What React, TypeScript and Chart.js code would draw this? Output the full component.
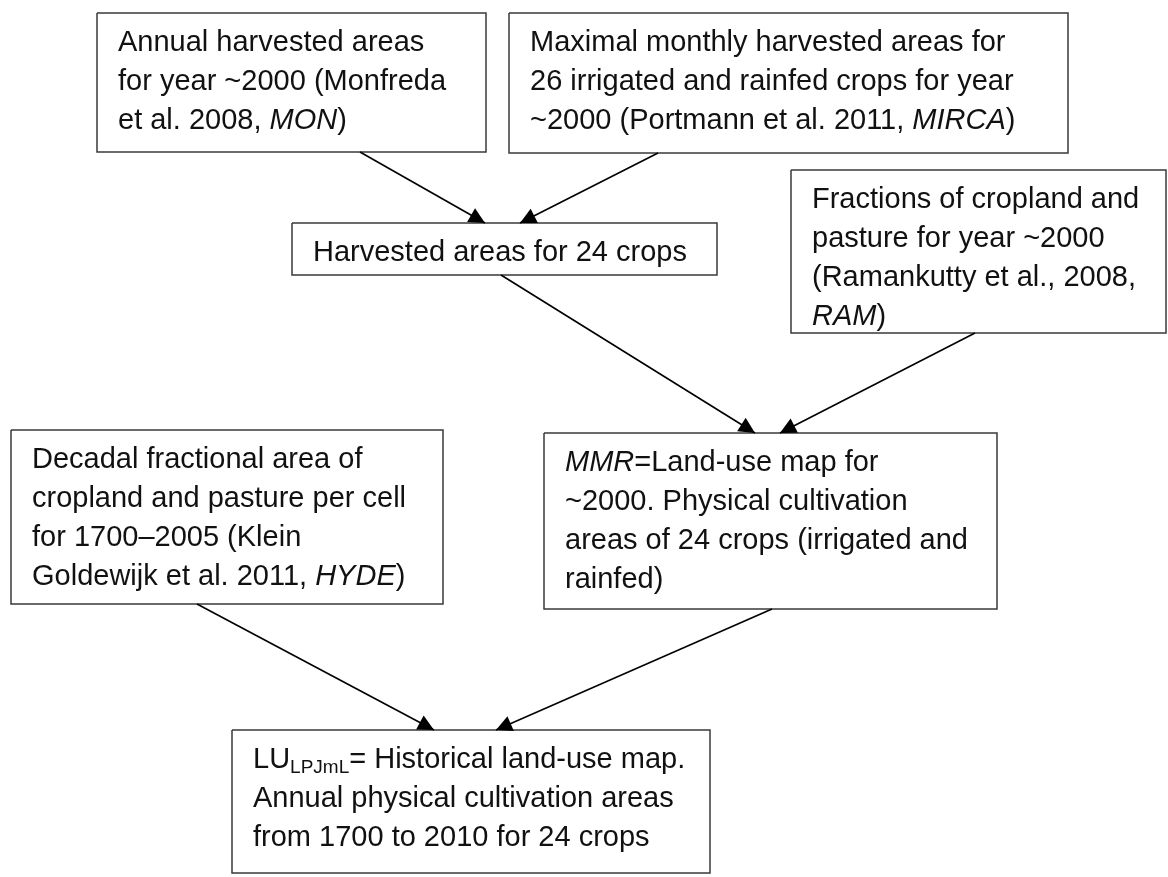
import React, { useEffect, useRef } from 'react';
import { Chart, registerables } from 'chart.js';

Chart.register(...registerables);

const CANVAS_W = 1168;
const CANVAS_H = 877;

// ---- Diagram data (in diagram units, mapped through the chart's linear scales) ----
const nodeText: string[][] = [
  ['Annual harvested areas', 'for year ~2000 (Monfreda', 'et al. 2008, *MON*)'],
  ['Maximal monthly harvested areas for', '26 irrigated and rainfed crops for year', '~2000 (Portmann et al. 2011, *MIRCA*)'],
  ['Harvested areas for 24 crops'],
  ['Fractions of cropland and', 'pasture for year ~2000', '(Ramankutty et al., 2008,', '*RAM*)'],
  ['Decadal fractional area of', 'cropland and pasture per cell', 'for 1700\u20132005 (Klein', 'Goldewijk et al. 2011, *HYDE*)'],
  ['*MMR*=Land-use map for', '~2000. Physical cultivation', 'areas of 24 crops (irrigated and', 'rainfed)'],
  ['LU_{LPJmL}= Historical land-use map.', 'Annual physical cultivation areas', 'from 1700 to 2010 for 24 crops'],
];
const nodeLeft = [97, 509, 292, 791, 11, 544, 232];
const nodeRight = [486, 1068, 717, 1166, 443, 997, 710];
const nodeTop = [13, 13, 223, 170, 430, 433, 730];
const nodeBottom = [152, 153, 275, 333, 604, 609, 873];

const edgeFromX = [360, 658, 501, 975, 197, 772];
const edgeFromY = [152, 153, 275, 333, 604, 609];
const edgeToX = [485, 520, 755, 780, 434, 496];
const edgeToY = [223, 223, 433, 433, 730, 730];

// ---- Styles ----
const FONT_FAMILY = '"Liberation Sans", Arial, Helvetica, sans-serif';
const FONT_SIZE = 29;
const SUB_SIZE = 19;
const LINE_H = 39;
const FIRST_BASELINE = 38;
const PAD_X = 21;
const TEXT_COLOR = '#111111';
const BOX_COLOR = '#3a3a3a';
const ARROW_COLOR = '#000000';
const HEAD_LEN = 16;
const HEAD_W = 16;

type Run = { text: string; italic: boolean; sub: boolean };

function parseRuns(s: string): Run[] {
  const runs: Run[] = [];
  let i = 0;
  let buf = '';
  const flush = () => {
    if (buf) runs.push({ text: buf, italic: false, sub: false });
    buf = '';
  };
  while (i < s.length) {
    if (s[i] === '*') {
      flush();
      const j = s.indexOf('*', i + 1);
      runs.push({ text: s.slice(i + 1, j), italic: true, sub: false });
      i = j + 1;
    } else if (s[i] === '_' && s[i + 1] === '{') {
      flush();
      const j = s.indexOf('}', i + 2);
      runs.push({ text: s.slice(i + 2, j), italic: false, sub: true });
      i = j + 1;
    } else {
      buf += s[i];
      i++;
    }
  }
  flush();
  return runs;
}

const textPlugin = {
  id: 'flowText',
  afterDatasetsDraw(chart: any) {
    const { ctx, scales } = chart;
    const xs = scales.x;
    const ys = scales.y;
    ctx.save();
    // arrowheads
    ctx.fillStyle = ARROW_COLOR;
    for (let k = 0; k < edgeFromX.length; k++) {
      const x0 = xs.getPixelForValue(edgeFromX[k]);
      const y0 = ys.getPixelForValue(edgeFromY[k]);
      const x1 = xs.getPixelForValue(edgeToX[k]);
      const y1 = ys.getPixelForValue(edgeToY[k]);
      const len = Math.hypot(x1 - x0, y1 - y0);
      const dx = (x1 - x0) / len;
      const dy = (y1 - y0) / len;
      const bx = x1 - dx * HEAD_LEN;
      const by = y1 - dy * HEAD_LEN;
      const px = -dy;
      const py = dx;
      ctx.beginPath();
      ctx.moveTo(x1, y1);
      ctx.lineTo(bx + px * HEAD_W / 2, by + py * HEAD_W / 2);
      ctx.lineTo(bx - px * HEAD_W / 2, by - py * HEAD_W / 2);
      ctx.closePath();
      ctx.fill();
    }
    // text
    ctx.fillStyle = TEXT_COLOR;
    ctx.textBaseline = 'alphabetic';
    ctx.textAlign = 'left';
    for (let n = 0; n < nodeText.length; n++) {
      const left = xs.getPixelForValue(nodeLeft[n]);
      const top = ys.getPixelForValue(nodeTop[n]);
      nodeText[n].forEach((line, li) => {
        let x = left + PAD_X;
        const y = top + FIRST_BASELINE + li * LINE_H;
        for (const r of parseRuns(line)) {
          const size = r.sub ? SUB_SIZE : FONT_SIZE;
          ctx.font = `${r.italic ? 'italic ' : ''}${size}px ${FONT_FAMILY}`;
          ctx.fillText(r.text, x, y + (r.sub ? 5 : 0));
          x += ctx.measureText(r.text).width;
        }
      });
    }
    ctx.restore();
  },
};

export default function App() {
  const ref = useRef<HTMLCanvasElement | null>(null);

  useEffect(() => {
    if (!ref.current) return;
    const boxSets = nodeLeft.map((l, i) => ({
      label: 'box' + i,
      data: [
        { x: l, y: nodeTop[i] },
        { x: nodeRight[i], y: nodeTop[i] },
        { x: nodeRight[i], y: nodeBottom[i] },
        { x: l, y: nodeBottom[i] },
        { x: l, y: nodeTop[i] },
      ],
      showLine: true,
      borderColor: BOX_COLOR,
      backgroundColor: BOX_COLOR,
      borderWidth: 1.5,
      borderJoinStyle: 'miter' as const,
      pointRadius: 0,
      pointHoverRadius: 0,
      fill: false,
      tension: 0,
      clip: false as any,
    }));
    const edgeSets = edgeFromX.map((fx, i) => ({
      label: 'edge' + i,
      data: [
        { x: fx, y: edgeFromY[i] },
        { x: edgeToX[i], y: edgeToY[i] },
      ],
      showLine: true,
      borderColor: ARROW_COLOR,
      backgroundColor: ARROW_COLOR,
      borderWidth: 1.6,
      pointRadius: 0,
      pointHoverRadius: 0,
      fill: false,
      tension: 0,
      clip: false as any,
    }));
    const chart = new Chart(ref.current, {
      type: 'scatter',
      data: { datasets: [...edgeSets, ...boxSets] as any },
      options: {
        animation: false,
        responsive: false,
        maintainAspectRatio: false,
        events: [],
        layout: { padding: 0 },
        plugins: {
          legend: { display: false },
          tooltip: { enabled: false },
          title: { display: false },
        },
        scales: {
          x: { type: 'linear', min: 0, max: CANVAS_W, display: false },
          y: { type: 'linear', min: 0, max: CANVAS_H, reverse: true, display: false },
        },
      },
      plugins: [textPlugin],
    });
    return () => chart.destroy();
  }, []);

  return (
    <div style={{ position: 'absolute', left: 0, top: 0, width: CANVAS_W, height: CANVAS_H, background: '#ffffff' }}>
      <canvas ref={ref} width={CANVAS_W} height={CANVAS_H} style={{ display: 'block', width: CANVAS_W, height: CANVAS_H }} />
    </div>
  );
}
